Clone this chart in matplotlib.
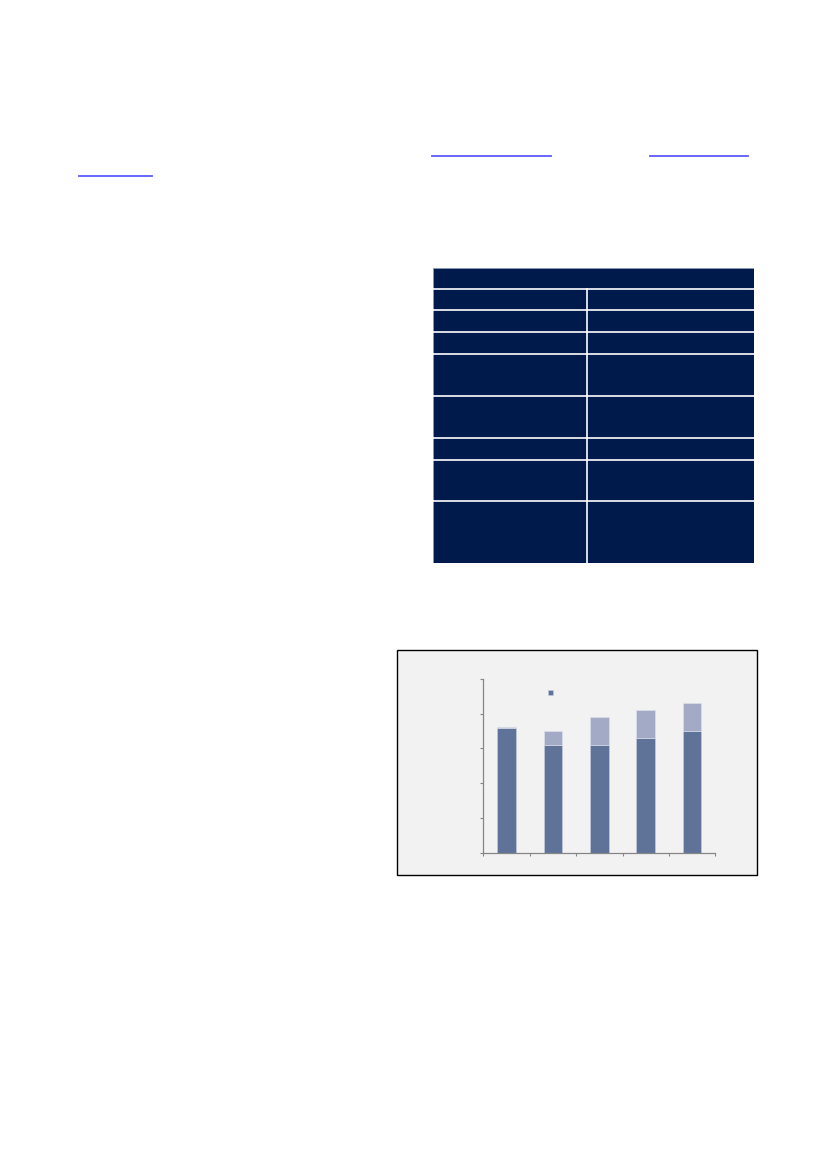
import matplotlib.pyplot as plt
from matplotlib.patches import Rectangle

# stacked bar data (axis labels are not shown in the source)
categories = ["A", "B", "C", "D", "E"]
base_vals = [35.9, 31.0, 31.0, 33.0, 35.0]
extra_vals = [0.3, 4.0, 8.0, 8.0, 8.0]

W, H = 826, 1170
fig = plt.figure(figsize=(W / 100, H / 100), dpi=100)
fig.patch.set_facecolor("white")


def fx(px):
    return px / W


def fy(py):
    return 1 - py / H


# hyperlink underlines (text missing in source)
link_color = "#5a5aff"
for x0, x1, y in [(432, 551, 155.5), (650, 748, 155.5), (79, 152, 176)]:
    fig.add_artist(plt.Line2D([fx(x0), fx(x1)], [fy(y), fy(y)], color=link_color, lw=1.3))

# table block
navy = "#001a4b"
tx0, tx1, ty0, ty1 = 432.7, 754.3, 268, 563.3
tab = fig.add_axes([fx(tx0), fy(ty1), fx(tx1 - tx0), (ty1 - ty0) / H])
tab.set_xlim(tx0, tx1)
tab.set_ylim(ty1, ty0)
tab.axis("off")
tab.add_patch(Rectangle((tx0, ty0), tx1 - tx0, ty1 - ty0, facecolor=navy, edgecolor="#8a9ab8", lw=0.6))
row_lines = [288.7, 310.3, 332, 354, 396, 438, 459.7, 501.3]
for r in row_lines:
    tab.plot([tx0, tx1], [r, r], color="white", lw=1.2)
tab.plot([587.3, 587.3], [288.7, ty1], color="white", lw=1.2)

# chart panel (behind the axes)
fig.add_artist(Rectangle((fx(397), fy(875)), fx(757 - 397), (875 - 650) / H,
                         facecolor="#f2f2f2", edgecolor="black", lw=1.0, zorder=-1))

ax = fig.add_axes([fx(483.3), fy(853), fx(715.3 - 483.3), (853 - 678.7) / H])
ax.set_facecolor("none")
x = range(len(categories))
dark = "#5f7399"
light = "#a2aac6"
b1 = ax.bar(x, base_vals, width=0.4, color=dark, edgecolor="#c8cfdf", linewidth=0.4)
b2 = ax.bar(x, extra_vals, width=0.4, bottom=base_vals, color=light, edgecolor="#dfe3ee", linewidth=0.4)
ax.set_xlim(-0.5, 4.5)
ax.set_ylim(0, 50)
ax.set_yticks(range(0, 51, 10))
ax.set_xticks([i - 0.5 for i in range(6)])
ax.set_xticklabels([])
ax.set_yticklabels([])
for s in ["top", "right"]:
    ax.spines[s].set_visible(False)
for s in ["left", "bottom"]:
    ax.spines[s].set_color("#868686")
    ax.spines[s].set_linewidth(0.9)
ax.tick_params(direction="out", length=2, width=0.8, color="#868686")

leg = ax.legend([b1], [" "], loc="center", bbox_to_anchor=(0.3, 0.92), frameon=False,
                handlelength=0.55, handleheight=0.55, fontsize=6, handletextpad=0.2)

fig.savefig("out.png", dpi=100)
